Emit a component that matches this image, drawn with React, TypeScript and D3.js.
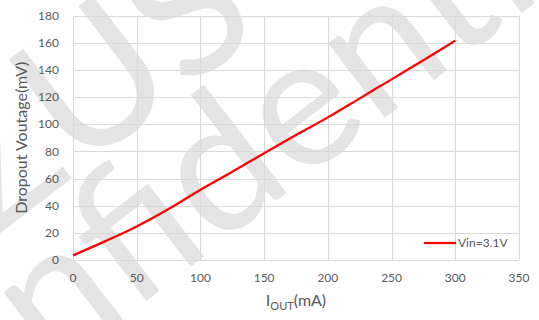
import React from 'react';
import * as d3 from 'd3';

const currents = [0, 25, 50, 75, 100, 125, 150, 175, 200, 225, 250, 275, 300];
const dropout = [3.4, 13.7, 24.7, 37.5, 51.7, 65, 78.6, 92, 105, 119, 133, 147, 161.5];
const xTicks = [0, 50, 100, 150, 200, 250, 300, 350];
const yTicks = [0, 20, 40, 60, 80, 100, 120, 140, 160, 180];
const seriesName = 'Vin=3.1V';

const width = 539, height = 320;
const margin = { left: 73, right: 20, top: 15.5, bottom: 60 };
const font = 'Lato, Carlito, "Open Sans", sans-serif';
const textColor = '#595959';

const App = () => {
    const x = d3.scaleLinear().domain([0, 350]).range([margin.left, width - margin.right]);
    const y = d3.scaleLinear().domain([0, 180]).range([height - margin.bottom, margin.top]);
    const pts: [number, number][] = currents.map((c, i) => [c, dropout[i]]);
    const line = d3.line<[number, number]>()
        .x(d => x(d[0]))
        .y(d => y(d[1]))
        .curve(d3.curveCatmullRom);

    return (
        <svg width={width} height={height} style={{ position: 'absolute', left: 0, top: 0, background: '#fff' }}>
            {/* watermark */}
            <g fill="#e4e4e4" fontFamily={font} fontSize={185}>
                <text transform="translate(265,30) rotate(-37.5)" textAnchor="end">AZUS</text>
                <text transform="translate(262,212) rotate(-37.5)" textAnchor="middle">Confidential</text>
            </g>
            <g stroke="#d9d9d9" strokeWidth={1}>
                {yTicks.map(t => (
                    <line key={'y' + t} x1={x(0)} x2={x(350)} y1={Math.round(y(t)) + 0.5} y2={Math.round(y(t)) + 0.5} />
                ))}
                {xTicks.map(t => (
                    <line key={'x' + t} x1={Math.round(x(t)) + 0.5} x2={Math.round(x(t)) + 0.5} y1={y(0)} y2={y(180)} />
                ))}
            </g>
            <g fill={textColor} fontFamily={font} fontSize={12}>
                {yTicks.map(t => (
                    <text key={t} x={x(0) - 14} y={y(t)} dy="0.35em" textAnchor="end">{t}</text>
                ))}
                {xTicks.map(t => (
                    <text key={t} x={x(t)} y={y(0) + 22} textAnchor="middle">{t}</text>
                ))}
            </g>
            <path d={line(pts) || ''} fill="none" stroke="#ff0000" strokeWidth={2.25} />
            <line x1={424} x2={456} y1={243} y2={243} stroke="#ff0000" strokeWidth={2.25} />
            <text x={458} y={243} dy="0.35em" fill={textColor} fontFamily={font} fontSize={12}>{seriesName}</text>
            <text transform={`translate(27,${(y(0) + y(180)) / 2}) rotate(-90)`} textAnchor="middle"
                fill={textColor} fontFamily={font} fontSize={16}>Dropout Voutage(mV)</text>
            <text x={(x(0) + x(350)) / 2} y={306} textAnchor="middle" fill={textColor} fontFamily={font} fontSize={16}>
                I<tspan fontSize={11} dy={4}>OUT</tspan><tspan dy={-4}>(mA)</tspan>
            </text>
        </svg>
    );
};

export default App;
